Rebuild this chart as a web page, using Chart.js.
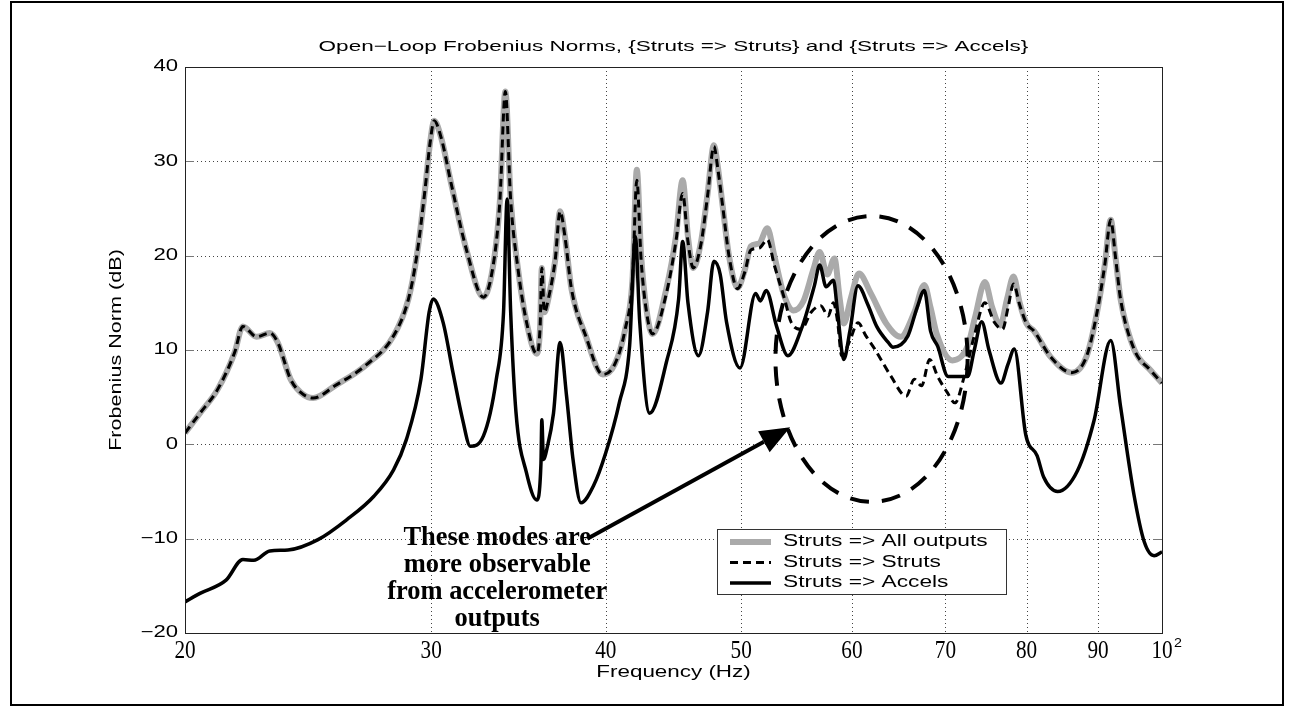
<!DOCTYPE html>
<html>
<head>
<meta charset="utf-8">
<script src="https://cdn.jsdelivr.net/npm/chart.js@4.4.1/dist/chart.umd.min.js"></script>
<style>
html, body { margin: 0; padding: 0; background: #fff; }
</style>
</head>
<body>
<canvas id="grafico" width="1290" height="717"></canvas>
<script>
// Frecuencia (Hz) y norma (dB)
const allFreq = [20.0, 20.5, 21.1, 21.7, 22.0, 22.5, 23.0, 23.3, 23.8, 24.2, 24.7, 25.6, 27.0, 28.2, 28.9, 29.3, 29.7, 29.95, 30.15, 30.5,
  31.0, 31.8, 32.7, 33.3, 33.6, 33.9, 34.2, 34.6, 35.1, 35.7, 35.9, 36.0, 36.15, 36.4, 36.8, 37.1, 37.4, 37.8, 38.7, 39.8,
  40.6, 41.3, 41.8, 42.1, 42.4, 42.8, 43.2, 44.2, 44.9, 45.4, 45.8, 46.2, 46.8, 47.3, 47.8, 48.1, 48.5, 49.0, 49.7, 50.3,
  50.8, 51.5, 52.2, 52.8, 53.6, 54.5, 55.4, 56.3, 56.9, 57.6, 58.3, 58.8, 59.2, 59.9, 60.7, 61.9, 63.5, 65.0, 66.5, 67.6,
  68.3, 69.0, 70.8, 72.6, 73.5, 74.7, 75.6, 76.6, 77.5, 78.3, 79.1, 80.0, 81.0, 83.2, 86.2, 88.3, 89.8, 91.0, 91.9, 92.6,
  93.4, 95.5, 98.2, 100];
const allDb = [1.2, 3.3, 5.8, 9.7, 12.5, 11.4, 11.8, 10.8, 6.9, 5.5, 4.9, 6.2, 8.5, 11.5, 15.4, 20.0, 27.0, 32.0, 34.3, 32.5,
  27.7, 20.6, 15.6, 19.9, 25.9, 37.4, 25.9, 18.8, 13.0, 9.6, 12.5, 18.7, 14.0, 15.5, 19.5, 24.7, 22.0, 16.5, 11.5, 7.4,
  8.5, 12.2, 17.5, 29.1, 20.0, 14.0, 11.7, 16.5, 22.0, 28.0, 22.0, 18.7, 21.5, 26.5, 31.7, 29.5, 25.2, 20.0, 16.6, 18.5,
  21.0, 21.3, 22.9, 20.0, 16.0, 14.2, 15.2, 18.5, 20.4, 18.0, 19.7, 15.5, 12.8, 15.5, 18.1, 16.0, 12.8, 11.4, 14.0, 16.9,
  14.5, 11.7, 8.9, 10.4, 13.5, 17.2, 14.5, 12.6, 15.5, 17.8, 15.0, 12.8, 12.0, 9.3, 7.6, 9.3, 13.8, 19.0, 23.8, 20.0,
  15.4, 10.1, 7.8, 6.5];

const strutFreq = [20.0, 20.5, 21.1, 21.7, 22.0, 22.5, 23.0, 23.3, 23.8, 24.2, 24.7, 25.6, 27.0, 28.2, 28.9, 29.3, 29.7, 29.95, 30.15, 30.5,
  31.0, 31.8, 32.7, 33.3, 33.6, 33.9, 34.2, 34.6, 35.1, 35.7, 35.9, 36.0, 36.15, 36.4, 36.8, 37.1, 37.4, 37.8, 38.7, 39.8,
  40.6, 41.3, 41.8, 42.1, 42.4, 42.8, 43.2, 44.2, 44.9, 45.4, 45.8, 46.2, 46.8, 47.3, 47.8, 48.1, 48.5, 49.0, 49.7, 50.3,
  50.8, 51.5, 52.2, 52.8, 53.7, 54.3, 55.2, 56.1, 57.0, 57.7, 58.2, 58.6, 59.0, 59.8, 60.6, 61.4, 62.3, 64.0, 65.6, 66.5,
  67.3, 68.2, 69.1, 70.2, 71.1, 72.2, 73.4, 74.7, 75.9, 76.9, 77.6, 78.3, 79.1, 80.0, 81.0, 83.2, 86.2, 88.3, 89.8, 91.0,
  91.9, 92.6, 93.4, 95.5, 98.2, 100];
const strutDb = [1.2, 3.3, 5.8, 9.7, 12.5, 11.4, 11.8, 10.8, 6.9, 5.5, 4.9, 6.2, 8.5, 11.5, 15.4, 20.0, 27.0, 32.0, 34.3, 32.5,
  27.7, 20.6, 15.6, 19.9, 25.9, 37.4, 25.9, 18.8, 13.0, 9.6, 12.5, 18.7, 14.0, 15.5, 19.5, 24.7, 22.0, 16.5, 11.5, 7.4,
  8.5, 12.2, 17.5, 28.0, 19.5, 13.8, 11.7, 16.0, 21.5, 26.6, 21.5, 18.7, 21.3, 26.3, 31.6, 29.3, 25.2, 20.0, 16.5, 18.3,
  20.6, 20.8, 21.7, 19.0, 15.4, 12.9, 12.2, 14.0, 14.7, 13.6, 15.0, 13.0, 9.4, 11.0, 12.9, 11.5, 10.1, 7.2, 5.1, 6.9,
  6.2, 9.0, 7.2, 5.5, 4.4, 7.2, 11.5, 15.0, 12.9, 12.2, 14.5, 17.0, 14.8, 12.8, 12.0, 9.3, 7.6, 9.3, 13.8, 19.0,
  23.8, 20.0, 15.4, 10.1, 7.8, 6.5];

const accelFreq = [20.0, 20.5, 21.4, 22.0, 22.4, 23.0, 23.7, 24.9, 26.1, 27.3, 28.2, 28.8, 29.5, 29.9, 30.1, 30.6, 31.1, 31.6, 32.0, 32.7,
  33.4, 33.8, 34.0, 34.2, 34.5, 35.1, 35.7, 35.95, 36.0, 36.1, 36.3, 36.7, 37.1, 37.5, 37.9, 38.4, 39.2, 40.0, 40.9, 41.6,
  42.0, 42.3, 43.0, 44.2, 45.1, 45.4, 45.8, 46.6, 47.3, 47.8, 48.3, 48.8, 49.9, 51.2, 51.6, 52.1, 53.0, 54.0, 55.2, 56.4,
  56.9, 57.5, 58.2, 58.6, 59.2, 59.8, 60.6, 61.6, 62.5, 63.7, 64.2, 65.8, 66.8, 67.6, 68.3, 69.1, 70.3, 72.6, 73.4, 74.3,
  75.2, 76.7, 77.6, 78.4, 79.9, 81.4, 82.3, 84.2, 87.0, 89.4, 91.9, 93.4, 95.5, 97.1, 98.7, 100];
const accelDb = [-16.7, -15.8, -14.4, -12.2, -12.3, -11.3, -11.2, -10.1, -8.0, -5.5, -2.7, 0.5, 6.9, 14.0, 15.4, 12.9, 7.6, 2.6, -0.2, 0.9,
  6.9, 14.0, 26.0, 14.0, 3.4, -3.0, -5.9, -2.0, 2.6, -1.6, -0.5, 3.3, 10.8, 5.1, -1.6, -6.2, -4.4, -0.9, 4.4, 10.4,
  22.0, 13.0, 3.3, 8.7, 15.4, 21.5, 15.0, 9.4, 14.0, 19.4, 18.0, 13.0, 8.1, 16.0, 15.2, 16.3, 12.5, 9.4, 12.2, 16.8,
  19.0, 16.7, 17.4, 14.0, 9.0, 12.0, 16.8, 14.8, 12.5, 10.8, 10.3, 11.5, 14.5, 16.3, 12.0, 10.4, 7.2, 7.2, 10.0, 13.0,
  10.0, 6.5, 8.5, 10.1, 1.0, -1.2, -3.5, -5.0, -2.8, 2.5, 11.0, 4.0, -5.4, -10.3, -11.8, -11.4];

const seriesNames = ['Struts => All outputs', 'Struts => Struts', 'Struts => Accels'];
const xTicks = [20, 30, 40, 50, 60, 70, 80, 90, 100];
const xTickLabels = ['20', '30', '40', '50', '60', '70', '80', '90', '10'];
const yTicks = [-20, -10, 0, 10, 20, 30, 40];
const chartTitle = 'Open\u2212Loop Frobenius Norms, {Struts => Struts} and {Struts => Accels}';
const xTitle = 'Frequency (Hz)';
const yTitle = 'Frobenius Norm (dB)';
const noteLines = ['These modes are', 'more observable', 'from accelerometer', 'outputs'];

// anotaciones, en coordenadas de los datos
const ellipseBox = { fMin: 52.9, fMax: 72.6, dbMin: -6.1, dbMax: 24.2 };
const arrowFrom = { f: 38.8, db: -10.0 };
const arrowTo = { f: 54.2, db: 1.8 };
const noteAt = { f: 33.45, db: -9.9 };

const toPoints = (fs, ds) => fs.map((f, i) => ({ x: f, y: ds[i] }));

// texto estirado en horizontal, como el render de MATLAB
function texto(ctx, s, x, y, font, align, sx) {
    ctx.save();
    ctx.font = font;
    ctx.textAlign = align;
    ctx.textBaseline = 'middle';
    ctx.translate(x, y);
    ctx.scale(sx, 1);
    ctx.fillText(s, 0, 0);
    ctx.restore();
}

const decorado = {
    id: 'decorado',
    beforeDatasetsDraw(chart) {
        const { ctx, chartArea: a, scales: { x, y } } = chart;
        ctx.save();
        ctx.strokeStyle = '#444';
        ctx.lineWidth = 1;
        ctx.setLineDash([1, 3]);
        xTicks.slice(1, -1).forEach(v => {
            const px = Math.round(x.getPixelForValue(v)) + 0.5;
            ctx.beginPath(); ctx.moveTo(px, a.top); ctx.lineTo(px, a.bottom); ctx.stroke();
        });
        yTicks.slice(1, -1).forEach(v => {
            const py = Math.round(y.getPixelForValue(v)) + 0.5;
            ctx.beginPath(); ctx.moveTo(a.left, py); ctx.lineTo(a.right, py); ctx.stroke();
        });
        ctx.setLineDash([]);
        ctx.strokeStyle = '#777';
        yTicks.forEach(v => {
            const py = Math.round(y.getPixelForValue(v)) + 0.5;
            ctx.beginPath(); ctx.moveTo(a.left, py); ctx.lineTo(a.left + 9, py); ctx.stroke();
            ctx.beginPath(); ctx.moveTo(a.right - 9, py); ctx.lineTo(a.right, py); ctx.stroke();
        });
        ctx.restore();
    },
    afterDatasetsDraw(chart) {
        const { ctx, chartArea: a, scales: { x, y } } = chart;
        ctx.save();

        // caja de ejes
        ctx.strokeStyle = '#222';
        ctx.lineWidth = 1;
        ctx.strokeRect(Math.round(a.left) + 0.5, Math.round(a.top) + 0.5, Math.round(a.right - a.left), Math.round(a.bottom - a.top));

        // marco de la figura
        ctx.strokeStyle = '#000';
        ctx.lineWidth = 2;
        ctx.strokeRect(11, 2, 1272, 703);

        ctx.fillStyle = '#000';
        // etiquetas eje y
        yTicks.forEach(v => {
            const s = v < 0 ? '\u2212' + Math.abs(v) : String(v);
            texto(ctx, s, a.left - 7, y.getPixelForValue(v), '16px "Liberation Sans", Arial', 'right', 1.38);
        });
        // etiquetas eje x
        xTicks.forEach((v, i) => {
            texto(ctx, xTickLabels[i], x.getPixelForValue(v), a.bottom + 18, '25px "Liberation Serif", serif', 'center', 0.85);
        });
        texto(ctx, '2', x.getPixelForValue(100) + 12, a.bottom + 10, '13px "Liberation Sans", Arial', 'left', 1.1);

        // titulos
        const cx = (a.left + a.right) / 2;
        texto(ctx, chartTitle, cx, 47, '15px "Liberation Sans", Arial', 'center', 1.5);
        texto(ctx, xTitle, cx, a.bottom + 40, '16px "Liberation Sans", Arial', 'center', 1.4);
        ctx.save();
        ctx.translate(117, (a.top + a.bottom) / 2);
        ctx.rotate(-Math.PI / 2);
        texto(ctx, yTitle, 0, 0, '16px "Liberation Sans", Arial', 'center', 1.35);
        ctx.restore();

        // elipse discontinua
        const ex0 = x.getPixelForValue(ellipseBox.fMin), ex1 = x.getPixelForValue(ellipseBox.fMax);
        const ey0 = y.getPixelForValue(ellipseBox.dbMax), ey1 = y.getPixelForValue(ellipseBox.dbMin);
        ctx.strokeStyle = '#000';
        ctx.lineWidth = 4;
        ctx.setLineDash([19, 13]);
        ctx.beginPath();
        ctx.ellipse((ex0 + ex1) / 2, (ey0 + ey1) / 2, (ex1 - ex0) / 2, (ey1 - ey0) / 2, 0, 0, Math.PI * 2);
        ctx.stroke();
        ctx.setLineDash([]);

        // flecha
        const p0 = { x: x.getPixelForValue(arrowFrom.f), y: y.getPixelForValue(arrowFrom.db) };
        const p1 = { x: x.getPixelForValue(arrowTo.f), y: y.getPixelForValue(arrowTo.db) };
        const ang = Math.atan2(p1.y - p0.y, p1.x - p0.x);
        const largo = 30, ancho = 12;
        const bx = p1.x - largo * Math.cos(ang), by = p1.y - largo * Math.sin(ang);
        ctx.lineWidth = 4;
        ctx.beginPath(); ctx.moveTo(p0.x, p0.y); ctx.lineTo(bx, by); ctx.stroke();
        ctx.beginPath();
        ctx.moveTo(p1.x, p1.y);
        ctx.lineTo(bx + ancho * Math.sin(ang), by - ancho * Math.cos(ang));
        ctx.lineTo(bx - ancho * Math.sin(ang), by + ancho * Math.cos(ang));
        ctx.closePath();
        ctx.fill();

        // nota en negrita
        const nx = x.getPixelForValue(noteAt.f), ny = y.getPixelForValue(noteAt.db);
        noteLines.forEach((s, i) => {
            texto(ctx, s, nx, ny + i * 27, 'bold 27px "Liberation Serif", serif', 'center', 0.98);
        });

        // leyenda
        const lx = 717, ly = 529, lw = 289, lh = 65;
        ctx.fillStyle = '#fff';
        ctx.fillRect(lx, ly, lw, lh);
        ctx.strokeStyle = '#333';
        ctx.lineWidth = 1;
        ctx.strokeRect(lx + 0.5, ly + 0.5, lw, lh);
        chart.data.datasets.forEach((d, i) => {
            const yy = ly + 13 + i * 20.5;
            ctx.strokeStyle = d.borderColor;
            ctx.lineWidth = d.borderWidth;
            ctx.setLineDash(d.borderDash || []);
            ctx.beginPath(); ctx.moveTo(lx + 13, yy); ctx.lineTo(lx + 54, yy); ctx.stroke();
            ctx.setLineDash([]);
            ctx.fillStyle = '#000';
            texto(ctx, seriesNames[i], lx + 66, yy, '16px "Liberation Sans", Arial', 'left', 1.42);
        });

        ctx.restore();
    }
};

new Chart(document.getElementById('grafico'), {
    type: 'line',
    data: {
        datasets: [
            { label: seriesNames[0], data: toPoints(allFreq, allDb), borderColor: '#aaaaaa', borderWidth: 6, order: 3 },
            { label: seriesNames[1], data: toPoints(strutFreq, strutDb), borderColor: '#000000', borderWidth: 3, borderDash: [8, 5], order: 2 },
            { label: seriesNames[2], data: toPoints(accelFreq, accelDb), borderColor: '#000000', borderWidth: 3.5, order: 1 }
        ]
    },
    options: {
        responsive: false,
        animation: false,
        layout: { padding: { left: 185, right: 128, top: 67, bottom: 84 } },
        elements: {
            point: { radius: 0 },
            line: { cubicInterpolationMode: 'monotone', fill: false }
        },
        scales: {
            x: {
                type: 'logarithmic', min: 20, max: 100,
                ticks: { display: false },
                grid: { display: false, drawTicks: false },
                border: { display: false }
            },
            y: {
                type: 'linear', min: -20, max: 40,
                ticks: { display: false },
                grid: { display: false, drawTicks: false },
                border: { display: false }
            }
        },
        plugins: { legend: { display: false }, tooltip: { enabled: false } }
    },
    plugins: [decorado]
});
</script>
</body>
</html>
